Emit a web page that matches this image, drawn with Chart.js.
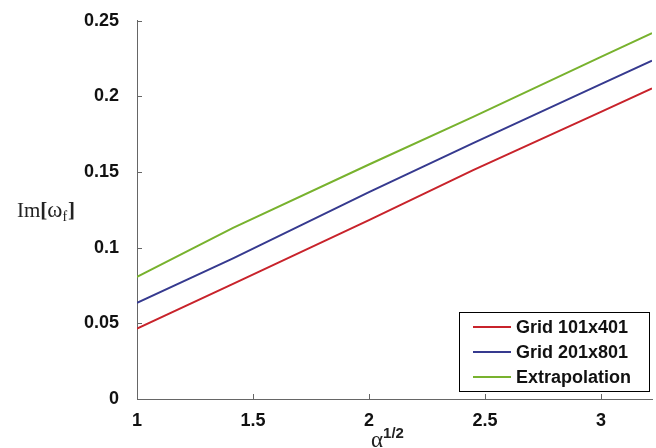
<!DOCTYPE html>
<html>
<head>
<meta charset="utf-8">
<script src="https://cdn.jsdelivr.net/npm/chart.js@4/dist/chart.umd.min.js"></script>
<style>
  body { margin: 0; background: #fff; }
  canvas { display: block; }
</style>
</head>
<body>
<canvas id="grafico" width="656" height="448"></canvas>
<script>
// datos: eje x = alpha^(1/2), eje y = Im[omega_f]
const raizAlfa = [1, 1.414, 2, 2.449, 3, 3.22];
const grid101 = [0.0466, 0.0761, 0.1183, 0.1513, 0.1898, 0.2053];
const grid201 = [0.0635, 0.0930, 0.1367, 0.1691, 0.2081, 0.2236];
const extrapolacion = [0.0807, 0.1131, 0.1550, 0.1865, 0.2262, 0.2419];

const nombres = ['Grid 101x401', 'Grid 201x801', 'Extrapolation'];
const colores = ['#c8232b', '#363a8f', '#78b22e'];

const ticksX = [1, 1.5, 2, 2.5, 3];
const ticksY = [0, 0.05, 0.1, 0.15, 0.2, 0.25];

const colorEje = '#666666';
const fuente = '"Liberation Sans", Arial, sans-serif';
const fuenteSerif = '"Liberation Serif", "Times New Roman", serif';

function puntos(valores) {
    return raizAlfa.map((x, i) => ({ x: x, y: valores[i] }));
}

// plugin: ticks hacia adentro, titulos de ejes y leyenda en la esquina
const decoracion = {
    id: 'decoracion',
    afterDraw(chart) {
        const ctx = chart.ctx;
        const a = chart.chartArea;
        const sx = chart.scales.x;
        const sy = chart.scales.y;
        ctx.save();

        // marcas de los ejes (hacia adentro)
        ctx.strokeStyle = colorEje;
        ctx.lineWidth = 1;
        ctx.beginPath();
        ticksY.forEach(v => {
            const py = Math.round(sy.getPixelForValue(v)) + 0.5;
            ctx.moveTo(a.left, py);
            ctx.lineTo(a.left + 5, py);
        });
        ticksX.forEach(v => {
            const px = Math.round(sx.getPixelForValue(v)) + 0.5;
            ctx.moveTo(px, a.bottom);
            ctx.lineTo(px, a.bottom - 5);
        });
        ctx.stroke();

        // titulo eje y: Im[ω_f]
        ctx.fillStyle = '#222';
        ctx.textBaseline = 'alphabetic';
        ctx.textAlign = 'left';
        let x = 17;
        const base = 217;
        ctx.font = '21px ' + fuenteSerif;
        ctx.fillText('Im', x, base); x += ctx.measureText('Im').width;
        ctx.font = 'bold 21px ' + fuenteSerif;
        ctx.fillText('[', x, base); x += ctx.measureText('[').width;
        ctx.font = '23px ' + fuenteSerif;
        ctx.fillText('ω', x, base); x += ctx.measureText('ω').width;
        ctx.font = '14px ' + fuenteSerif;
        ctx.fillText('f', x, base + 4); x += ctx.measureText('f').width + 1;
        ctx.font = 'bold 21px ' + fuenteSerif;
        ctx.fillText(']', x, base);

        // titulo eje x: α^(1/2)
        ctx.font = '23px ' + fuenteSerif;
        ctx.fillText('α', 371, 447);
        const wa = ctx.measureText('α').width;
        ctx.font = 'bold 15px ' + fuente;
        ctx.fillText('1/2', 371 + wa, 438);

        // leyenda
        const ancho = 190, alto = 79;
        const lx = a.right - 3 - ancho;
        const ly = a.bottom - 8 - alto;
        ctx.fillStyle = '#fff';
        ctx.fillRect(lx, ly, ancho, alto);
        ctx.strokeStyle = '#000';
        ctx.lineWidth = 1;
        ctx.strokeRect(Math.round(lx) + 0.5, Math.round(ly) + 0.5, ancho, alto);
        ctx.font = 'bold 18px ' + fuente;
        ctx.textBaseline = 'middle';
        nombres.forEach((n, i) => {
            const fy = ly + 15 + i * 25;
            ctx.strokeStyle = colores[i];
            ctx.lineWidth = 2;
            ctx.beginPath();
            ctx.moveTo(lx + 14, fy);
            ctx.lineTo(lx + 52, fy);
            ctx.stroke();
            ctx.fillStyle = '#111';
            ctx.fillText(n, lx + 57, fy + 1);
        });
        ctx.restore();
    }
};

const ctx = document.getElementById('grafico').getContext('2d');
new Chart(ctx, {
    type: 'line',
    data: {
        datasets: [grid101, grid201, extrapolacion].map((serie, i) => ({
            label: nombres[i],
            data: puntos(serie),
            borderColor: colores[i],
            borderWidth: 2,
            pointRadius: 0,
            tension: 0,
            fill: false
        }))
    },
    options: {
        responsive: false,
        animation: false,
        layout: { padding: { top: 20, right: 4, left: 0, bottom: 0 } },
        plugins: {
            legend: { display: false },
            tooltip: { enabled: false }
        },
        scales: {
            x: {
                type: 'linear',
                min: 1,
                max: 3.22,
                afterBuildTicks: scale => { scale.ticks = ticksX.map(v => ({ value: v })); },
                afterFit: scale => { scale.height = 49; },
                grid: { display: false },
                border: { display: true, color: colorEje, width: 1 },
                ticks: {
                    padding: 3,
                    color: '#111',
                    font: { family: fuente, size: 18, weight: 'bold' },
                    callback: v => String(v)
                }
            },
            y: {
                min: 0,
                max: 0.25,
                afterBuildTicks: scale => { scale.ticks = ticksY.map(v => ({ value: v })); },
                afterFit: scale => { scale.width = 137; },
                grid: { display: false },
                border: { display: true, color: colorEje, width: 1 },
                ticks: {
                    padding: 10,
                    color: '#111',
                    font: { family: fuente, size: 18, weight: 'bold' },
                    callback: v => String(Math.round(v * 100) / 100)
                }
            }
        }
    },
    plugins: [decoracion]
});
</script>
</body>
</html>
